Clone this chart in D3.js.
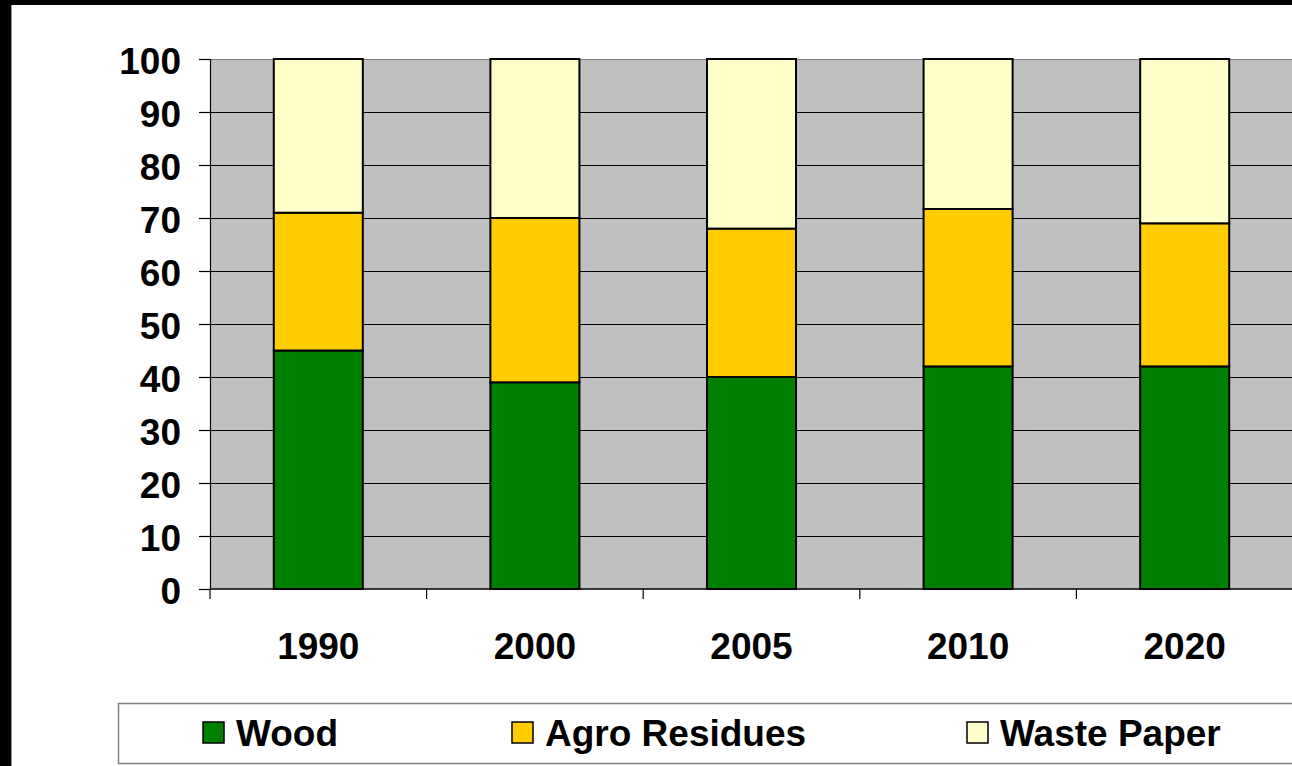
<!DOCTYPE html>
<html><head><meta charset="utf-8">
<script src="https://cdn.jsdelivr.net/npm/d3@7"></script>
<style>html,body{margin:0;padding:0;background:#fff;}svg{display:block;}</style>
</head><body>
<svg id="c" width="1292" height="766"></svg>
<script>
const categories = ["1990", "2000", "2005", "2010", "2020"];
const seriesNames = ["Wood", "Agro Residues", "Waste Paper"];
const wood = [45, 39, 40, 42, 42];
const agro = [26, 31, 28, 29.7, 27];
const paper = [29, 30, 32, 28.3, 31];
const yTicks = [0, 10, 20, 30, 40, 50, 60, 70, 80, 90, 100];
const colors = ["#008000", "#FFCC00", "#FFFFCC"];

const svg = d3.select("#c");
const font = "'Liberation Sans', Arial, sans-serif";
const fs = 37;

// frame
svg.append("rect").attr("x",0).attr("y",0).attr("width",1292).attr("height",766).attr("fill","#000");
svg.append("rect").attr("x",11).attr("y",5).attr("width",1281).attr("height",761).attr("fill","#fff");
svg.append("line").attr("x1",11.5).attr("x2",11.5).attr("y1",5).attr("y2",766).attr("stroke","#999").attr("stroke-width",1);

const L = 210, R = 1293, T = 59, B = 589;
const y = d3.scaleLinear().domain([0, 100]).range([B, T]);
const x = d3.scaleBand().domain(categories).range([L, R]).paddingInner(0.589).paddingOuter(0.2945);

// plot background
svg.append("rect").attr("x",L).attr("y",T).attr("width",R-L).attr("height",B-T).attr("fill","#C0C0C0");

// gridlines
svg.append("g").selectAll("line").data(yTicks.filter(d=>d>0)).join("line")
  .attr("x1",L).attr("x2",R)
  .attr("y1",d=>Math.round(y(d))+0.5).attr("y2",d=>Math.round(y(d))+0.5)
  .attr("stroke",d=>d===100?"#808080":"#000").attr("stroke-width",1.2);

// stacked data
const rows = categories.map((c,i)=>({cat:c, Wood:wood[i], "Agro Residues":agro[i], "Waste Paper":paper[i]}));
const stack = d3.stack().keys(seriesNames)(rows);
const bw = x.bandwidth();
svg.append("g").selectAll("g").data(stack).join("g")
  .attr("fill",(d,i)=>colors[i])
  .selectAll("rect").data(d=>d).join("rect")
  .attr("x",d=>x(d.data.cat)).attr("width",bw)
  .attr("y",d=>y(d[1])).attr("height",d=>y(d[0])-y(d[1]))
  .attr("stroke","#000").attr("stroke-width",2);

// y axis
const yAxis = d3.axisLeft(y).tickValues(yTicks).tickSize(11).tickPadding(18).tickFormat(d3.format("d"));
const gy = svg.append("g").attr("transform",`translate(${L},0)`).call(yAxis);
gy.select(".domain").attr("stroke","#000").attr("stroke-width",1.2);
gy.selectAll(".tick line").attr("stroke","#000").attr("stroke-width",1.2);
gy.selectAll(".tick text").attr("font-family",font).attr("font-size",fs).attr("font-weight","bold").attr("fill","#000").attr("dy","0.38em");

// x axis line
svg.append("line").attr("x1",L).attr("x2",R).attr("y1",B).attr("y2",B).attr("stroke","#000").attr("stroke-width",1.5);
// category boundary ticks
const step = x.step();
const bounds = categories.map(c=>x(c)+bw/2-step/2).concat([x(categories[categories.length-1])+bw/2+step/2]);
svg.append("g").selectAll("line").data(bounds).join("line")
  .attr("x1",d=>d).attr("x2",d=>d).attr("y1",B).attr("y2",B+10)
  .attr("stroke","#000").attr("stroke-width",1.2);
// category labels
svg.append("g").selectAll("text").data(categories).join("text")
  .attr("x",d=>x(d)+bw/2).attr("y",659)
  .attr("text-anchor","middle").attr("font-family",font).attr("font-size",fs).attr("font-weight","bold").attr("fill","#000")
  .text(d=>d);

// legend
svg.append("rect").attr("x",118.5).attr("y",703.5).attr("width",1200).attr("height",60).attr("fill","#fff").attr("stroke","#808080").attr("stroke-width",1.5);
const legX = [203, 512, 967];
const leg = svg.append("g").selectAll("g").data(seriesNames).join("g")
  .attr("transform",(d,i)=>`translate(${legX[i]},722)`);
leg.append("rect").attr("width",21).attr("height",21).attr("fill",(d,i)=>colors[i]).attr("stroke","#000").attr("stroke-width",1.5);
leg.append("text").attr("x",33).attr("y",23.5).attr("font-family",font).attr("font-size",fs).attr("font-weight","bold").attr("fill","#000").text(d=>d);
</script>
</body></html>
